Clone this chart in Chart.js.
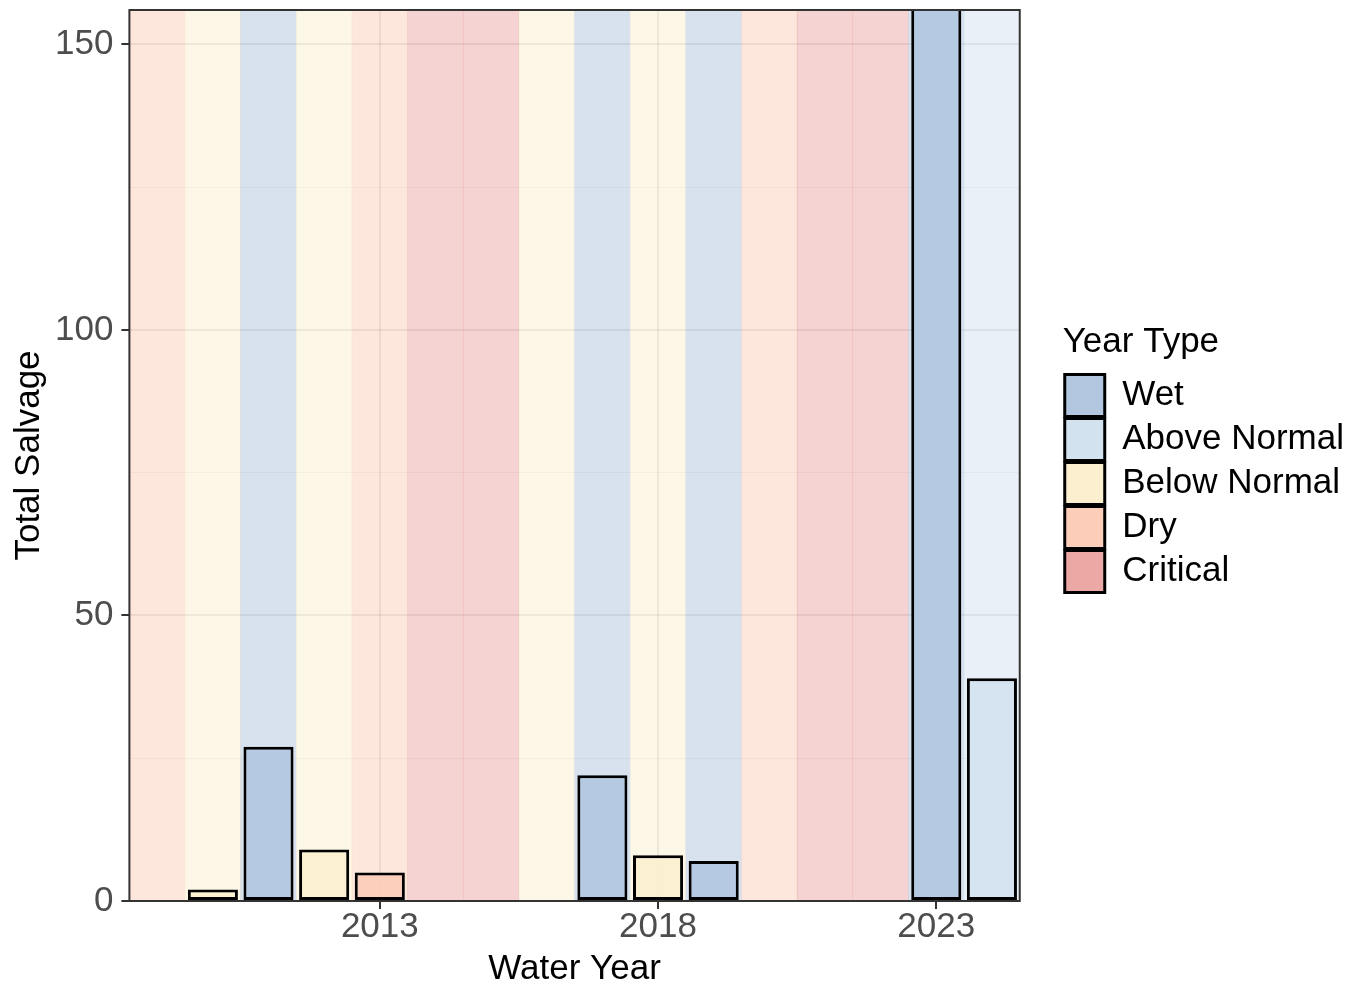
<!DOCTYPE html>
<html>
<head>
<meta charset="utf-8">
<title>Total Salvage by Water Year</title>
<script src="https://cdn.jsdelivr.net/npm/chart.js@4.4.1/dist/chart.umd.min.js"></script>
<style>
  html, body { margin: 0; padding: 0; background: #fff; }
  #wrap { width: 1364px; height: 987px; }
</style>
</head>
<body>
<div id="wrap"><canvas id="salvageChart" width="1364" height="987"></canvas></div>
<script>
// Water year type for every year (drawn as background bands)
const bandYears = [2009, 2010, 2011, 2012, 2013, 2014, 2015, 2016, 2017, 2018, 2019, 2020, 2021, 2022, 2023, 2024];
const bandTypes = ['Dry', 'Below Normal', 'Wet', 'Below Normal', 'Dry', 'Critical', 'Critical', 'Below Normal',
                   'Wet', 'Below Normal', 'Wet', 'Dry', 'Critical', 'Critical', 'Wet', 'Above Normal'];

// Total salvage per water year (2023 runs off the top of the panel)
const salvageYears = [2010, 2011, 2012, 2013, 2017, 2018, 2019, 2023, 2024];
const salvageValues = [2, 27, 9, 5, 22, 8, 7, 210, 39];
const salvageTypes = ['Below Normal', 'Wet', 'Below Normal', 'Dry', 'Wet', 'Below Normal', 'Wet', 'Wet', 'Above Normal'];

// Legend order and fills
const typeOrder = ['Wet', 'Above Normal', 'Below Normal', 'Dry', 'Critical'];
const typeColors = ['#b2c6e0', '#d3e2ef', '#fcefcf', '#fccdb8', '#eba8a5'];

// Axis ticks (major + minor)
const xTickValues = [2010.5, 2013, 2015.5, 2018, 2020.5, 2023];
const yTickValues = [0, 25, 50, 75, 100, 125, 150];
const Y_MAX = 156;

const FONT = '"Liberation Sans", Arial, sans-serif';
const FONT_SIZE = 35;

function typeColor(type, alpha) {
    const hex = typeColors[typeOrder.indexOf(type)];
    const r = parseInt(hex.slice(1, 3), 16);
    const g = parseInt(hex.slice(3, 5), 16);
    const b = parseInt(hex.slice(5, 7), 16);
    return `rgba(${r}, ${g}, ${b}, ${alpha})`;
}

// Dark frame around the panel, like theme_bw
const panelBorder = {
    id: 'panelBorder',
    afterDatasetsDraw(chart) {
        const { ctx, chartArea: a } = chart;
        ctx.save();
        ctx.strokeStyle = '#333333';
        ctx.lineWidth = 2;
        ctx.strokeRect(a.left, a.top, a.right - a.left, a.bottom - a.top);
        ctx.restore();
    }
};

const ctx = document.getElementById('salvageChart').getContext('2d');

new Chart(ctx, {
    type: 'bar',
    data: {
        datasets: [
            {
                label: 'Total Salvage',
                data: salvageYears.map((yr, i) => ({ x: yr, y: salvageValues[i] })),
                backgroundColor: salvageTypes.map(t => typeColor(t, 0.88)),
                borderColor: '#000000',
                borderWidth: 3,
                borderSkipped: false,
                barPercentage: 0.9,
                categoryPercentage: 1,
                grouped: false,
                clip: 0,
                order: 1
            },
            {
                label: 'Year Type',
                data: bandYears.map(yr => ({ x: yr, y: Y_MAX })),
                backgroundColor: bandTypes.map(t => typeColor(t, 0.5)),
                borderWidth: 0,
                barPercentage: 1,
                categoryPercentage: 1,
                grouped: false,
                clip: 0,
                order: 2
            }
        ]
    },
    options: {
        responsive: false,
        animation: false,
        layout: { padding: { left: 12, top: 10, right: 10, bottom: 0 } },
        plugins: {
            tooltip: { enabled: false },
            legend: {
                position: 'right',
                align: 'center',
                fullSize: false,
                maxWidth: 320,
                title: {
                    display: true,
                    text: 'Year Type',
                    color: '#000000',
                    position: 'start',
                    font: { family: FONT, size: FONT_SIZE },
                    padding: { top: 8, bottom: 6 }
                },
                labels: {
                    color: '#000000',
                    font: { family: FONT, size: FONT_SIZE },
                    boxWidth: 40,
                    boxHeight: 42,
                    padding: 2,
                    generateLabels: () => typeOrder.map((t, i) => ({
                        text: t,
                        fillStyle: typeColors[i],
                        strokeStyle: '#000000',
                        lineWidth: 3,
                        hidden: false,
                        datasetIndex: 1
                    }))
                }
            }
        },
        scales: {
            x: {
                type: 'linear',
                min: 2008.5,
                max: 2024.5,
                offset: false,
                afterBuildTicks: scale => { scale.ticks = xTickValues.map(v => ({ value: v })); },
                grid: {
                    offset: false,
                    color: c => Number.isInteger(c.tick.value) ? 'rgba(0,0,0,0.12)' : 'rgba(0,0,0,0.07)',
                    lineWidth: c => Number.isInteger(c.tick.value) ? 2 : 1,
                    tickColor: c => Number.isInteger(c.tick.value) ? '#333333' : 'rgba(0,0,0,0)',
                    tickLength: 8,
                    tickWidth: 2
                },
                border: { display: false },
                ticks: {
                    autoSkip: false,
                    maxRotation: 0,
                    padding: 1,
                    color: '#4d4d4d',
                    font: { family: FONT, size: FONT_SIZE, lineHeight: 1.0 },
                    callback: v => Number.isInteger(v) ? String(v) : ''
                },
                title: {
                    display: true,
                    text: 'Water Year',
                    color: '#000000',
                    font: { family: FONT, size: FONT_SIZE, lineHeight: 1.0 },
                    padding: { top: 6, bottom: 0 }
                }
            },
            y: {
                min: 0,
                max: Y_MAX,
                afterBuildTicks: scale => { scale.ticks = yTickValues.map(v => ({ value: v })); },
                afterFit: scale => { scale.paddingTop = 0; },
                grid: {
                    color: c => c.tick.value % 50 === 0 ? 'rgba(0,0,0,0.12)' : 'rgba(0,0,0,0.07)',
                    lineWidth: c => c.tick.value % 50 === 0 ? 2 : 1,
                    tickColor: c => c.tick.value % 50 === 0 ? '#333333' : 'rgba(0,0,0,0)',
                    tickLength: 8,
                    tickWidth: 2
                },
                border: { display: false },
                ticks: {
                    padding: 8,
                    color: '#4d4d4d',
                    font: { family: FONT, size: FONT_SIZE },
                    callback: v => v % 50 === 0 ? String(v) : ''
                },
                title: {
                    display: true,
                    text: 'Total Salvage',
                    color: '#000000',
                    font: { family: FONT, size: FONT_SIZE, lineHeight: 1.0 },
                    padding: 0
                }
            },
            // empty spacer between the panel and the legend
            gap: {
                type: 'linear',
                position: 'right',
                display: true,
                grid: { display: false, drawTicks: false },
                border: { display: false },
                ticks: { display: false },
                afterFit: scale => { scale.width = 43; }
            }
        }
    },
    plugins: [panelBorder]
});
</script>
</body>
</html>
